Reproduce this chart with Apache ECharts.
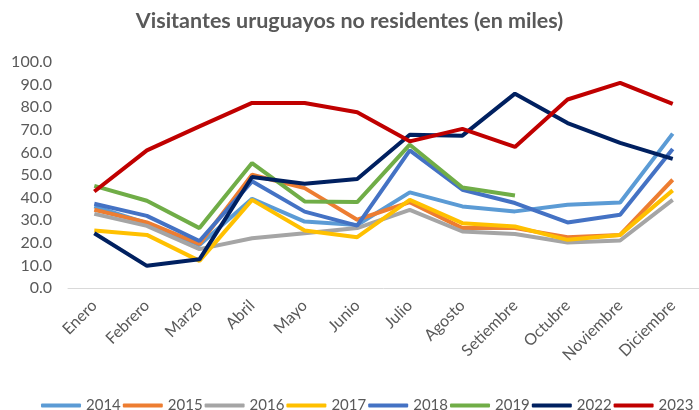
<!DOCTYPE html>
<html>
<head>
<meta charset="utf-8">
<script src="https://cdn.jsdelivr.net/npm/echarts@6/dist/echarts.min.js"></script>
<style>
  html, body { margin: 0; padding: 0; background: #fff; }
  #main { width: 699px; height: 410px; }
</style>
</head>
<body>
<div id="main"></div>
<script>
// meses y valores (miles)
var meses = ['Enero', 'Febrero', 'Marzo', 'Abril', 'Mayo', 'Junio', 'Julio',
  'Agosto', 'Setiembre', 'Octubre', 'Noviembre', 'Diciembre'];

var v2014 = [36.1, 28.7, 19.0, 39.5, 29.4, 27.9, 42.3, 36.1, 33.9, 36.8, 37.8, 68.3];
var v2015 = [34.6, 29.0, 19.5, 50.1, 44.2, 30.2, 38.0, 26.5, 26.5, 22.5, 23.5, 47.9];
var v2016 = [32.8, 27.5, 17.2, 22.0, 24.2, 26.5, 34.6, 25.0, 23.9, 20.1, 21.0, 39.0];
var v2017 = [25.4, 23.5, 12.0, 39.0, 25.4, 22.5, 39.0, 28.7, 27.2, 21.3, 23.5, 43.2];
var v2018 = [37.3, 31.9, 20.8, 47.2, 33.8, 27.6, 60.9, 43.5, 37.6, 29.0, 32.4, 61.5];
var v2019 = [45.2, 38.6, 26.5, 55.3, 38.3, 38.0, 63.4, 44.5, 40.9];
var v2022 = [24.2, 9.8, 12.7, 49.1, 46.1, 48.2, 67.8, 67.4, 86.0, 73.0, 64.2, 57.1];
var v2023 = [42.7, 60.9, 71.5, 81.9, 81.9, 77.8, 64.9, 70.4, 62.4, 83.4, 90.8, 81.5];

var anios = ['2014', '2015', '2016', '2017', '2018', '2019', '2022', '2023'];
var colores = ['#5B9BD5', '#ED7D31', '#A5A5A5', '#FFC000', '#4472C4', '#70AD47', '#002060', '#C00000'];
var datos = [v2014, v2015, v2016, v2017, v2018, v2019, v2022, v2023];

var myChart = echarts.init(document.getElementById('main'));

var series = anios.map(function (a, i) {
  return {
    name: a,
    type: 'line',
    data: datos[i],
    symbol: 'none',
    lineStyle: { width: 4, color: colores[i] },
    itemStyle: { color: colores[i] }
  };
});

var option = {
  animation: false,
  color: colores,
  title: {
    text: 'Visitantes uruguayos no residentes (en miles)',
    left: 'center',
    top: 5,
    textStyle: { fontFamily: 'Lato', fontSize: 21.5, fontWeight: 'bold', color: '#595959' }
  },
  legend: {
    data: anios,
    bottom: -3,
    left: 41,
    width: 680,
    padding: 0,
    itemWidth: 40,
    itemHeight: 4,
    itemGap: 2,
    icon: 'roundRect',
    textStyle: { fontFamily: 'Lato', fontSize: 15, color: '#595959' }
  },
  grid: {
    left: 68,
    right: -12,
    top: 62,
    bottom: 122
  },
  xAxis: {
    type: 'category',
    data: meses,
    axisLine: { lineStyle: { color: '#D9D9D9', width: 1 } },
    axisTick: { show: false },
    axisLabel: {
      rotate: 45,
      interval: 0,
      margin: 15,
      fontFamily: 'Lato',
      fontSize: 16,
      color: '#595959'
    }
  },
  yAxis: {
    type: 'value',
    min: 0,
    max: 100,
    interval: 10,
    axisLine: { show: false },
    axisTick: { show: false },
    splitLine: { show: false },
    axisLabel: {
      margin: 16,
      fontFamily: 'Lato',
      fontSize: 16,
      color: '#595959',
      formatter: function (v) { return v.toFixed(1); }
    }
  },
  series: series
};

myChart.setOption(option);
</script>
</body>
</html>
